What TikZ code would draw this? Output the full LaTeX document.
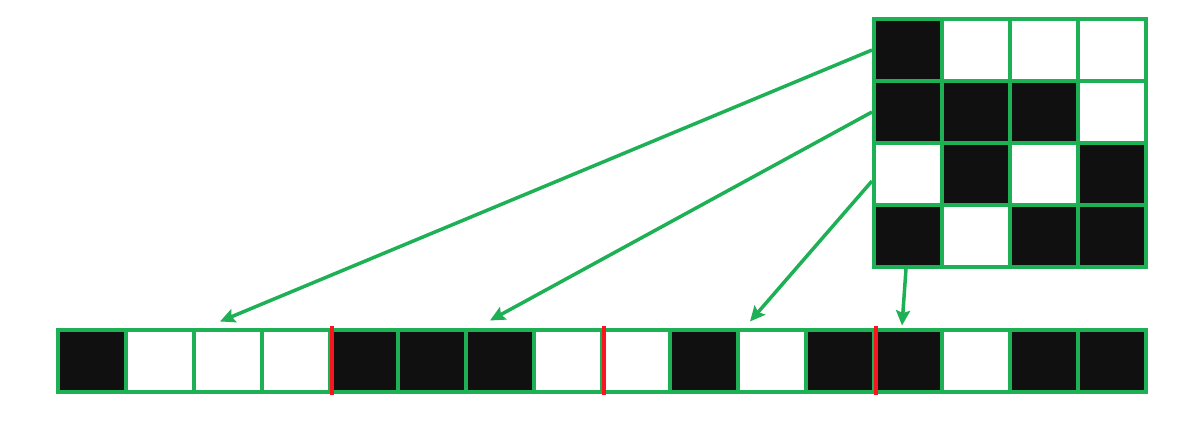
\documentclass[tikz,border=0pt]{standalone}
\usetikzlibrary{arrows.meta}
\definecolor{cellgreen}{RGB}{29,176,84}
\definecolor{cellblack}{RGB}{16,16,16}
\definecolor{sepred}{RGB}{250,20,30}
\tikzset{
  cell/.style={draw=cellgreen, line width=4pt, minimum width=68pt, minimum height=62pt, inner sep=0pt},
  bit0/.style={fill=white},
  bit1/.style={fill=cellblack},
  link/.style={draw=cellgreen, line width=3.5pt},
  sep/.style={draw=sepred, line width=4pt, shorten <=-1.5pt, shorten >=-1.5pt}
}
\begin{document}
\begin{tikzpicture}[>={Stealth[length=15pt,width=14pt,inset=2.5pt]}, x=1pt, y=-1pt]
\useasboundingbox (0,0) rectangle (1200,426);

% block and its row-by-row copy
\foreach \r/\row in {1/{1,0,0,0},2/{1,1,1,0},3/{0,1,0,1},4/{1,0,1,1}}{
    \foreach \v [count=\c] in \row {
        \pgfmathtruncatemacro{\i}{4*(\r-1)+\c}
        \node[cell, bit\v] (g\r\c) at ({908+68*(\c-1)}, {50+62*(\r-1)}) {};
        \node[cell, bit\v] (b\i) at ({92+68*(\i-1)}, 360.5) {};
    }
}

% row boundaries
\draw[sep] (b4.north east) -- (b4.south east);
\draw[sep] (b8.north east) -- (b8.south east);
\draw[sep] (b12.north east) -- (b12.south east);

% where each row goes
\coordinate (t1) at ([shift={(-8,-6)}]b3.north);
\coordinate (t2) at ([shift={(-10,-7)}]b7.north);
\coordinate (t3) at ([shift={(-22,-6)}]b11.north);
\coordinate (t4) at ([shift={(-6,-2)}]b13.north);
\draw[->, link] (g11.west) -- (t1);
\draw[->, link] (g21.west) -- (t2);
\draw[->, link] ([shift={(0,7)}]g31.west) -- (t3);
\draw[->, link] ([shift={(-2,0)}]g41.south) -- (t4);
\end{tikzpicture}
\end{document}
